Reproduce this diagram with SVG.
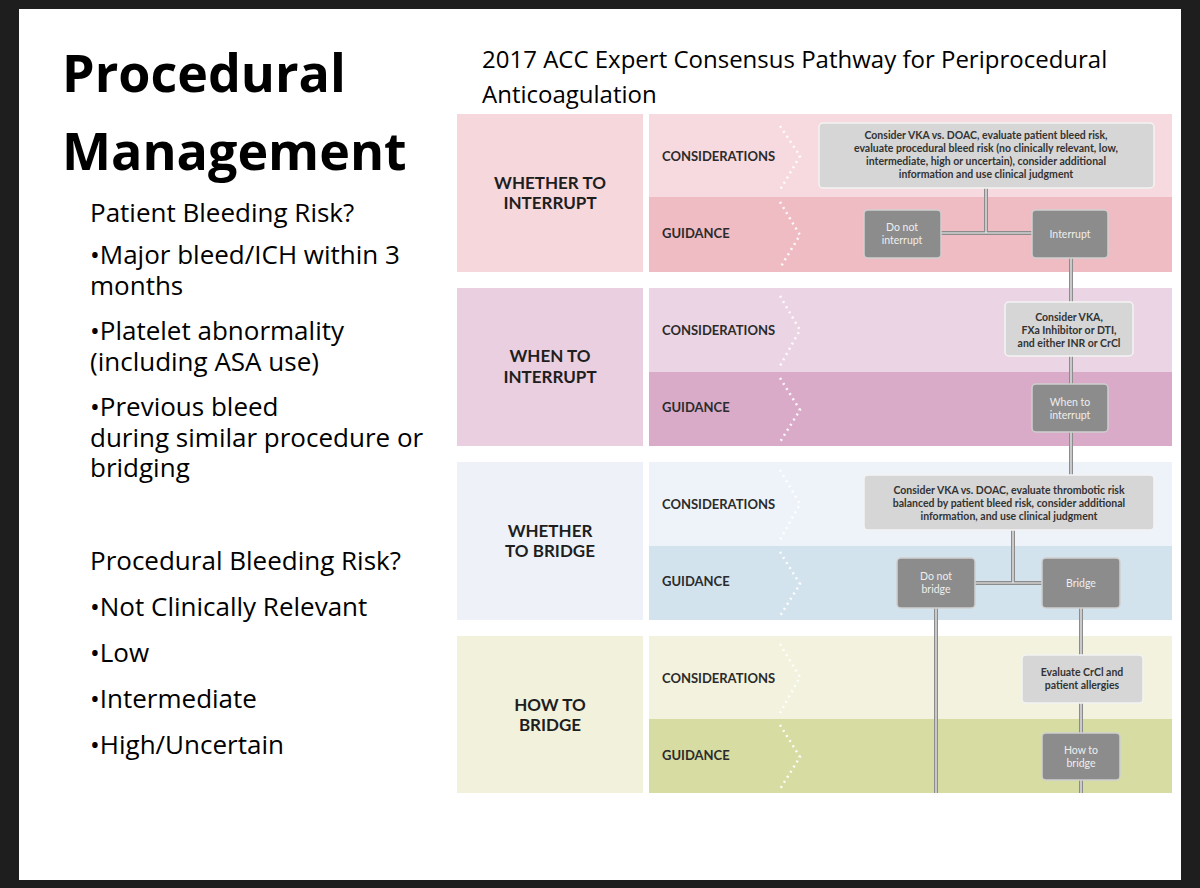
<svg xmlns="http://www.w3.org/2000/svg" width="1200" height="888" viewBox="0 0 1200 888">
<style>
.t{font-family:"Open Sans","Liberation Sans",sans-serif;fill:#000}
.b{font-size:26px}
.lab{font-family:"Lato","Liberation Sans",sans-serif;font-weight:bold;font-size:13px;fill:#2b2b2b}
.sec{font-family:"Lato","Liberation Sans",sans-serif;font-weight:bold;font-size:17px;fill:#1e1e1e;text-anchor:middle}
.lt{fill:#d6d6d6;stroke:#f4f4f4;stroke-width:1.5}
.dk{fill:#8c8c8c;stroke:#cfcfcf;stroke-width:1.5}
.nt{font-family:"Lato","Liberation Sans",sans-serif;font-size:10.5px;text-anchor:middle}
.ntl{fill:#333;font-weight:bold}
.ntd{fill:#eeeeee}
.ch{fill:none;stroke:#fff;stroke-width:2.5;stroke-dasharray:2 4;opacity:.9}
.ln{fill:none;stroke:#8c8c8c;stroke-width:4}
.li{fill:none;stroke:#f2f2f2;stroke-width:1.2}
</style>
<rect width="1200" height="888" fill="#1e1e1e"/>
<rect x="19" y="9" width="1162" height="871" fill="#ffffff"/>
<text class="t" x="62" y="92" font-size="52" font-weight="bold">Procedural</text>
<text class="t" x="62" y="170" font-size="52" font-weight="bold">Management</text>
<g class="t b">
<text x="90" y="222">Patient Bleeding Risk?</text>
<text x="90" y="264">•Major bleed/ICH within 3</text>
<text x="90" y="295">months</text>
<text x="90" y="340">•Platelet abnormality</text>
<text x="90" y="371">(including ASA use)</text>
<text x="90" y="416">•Previous bleed</text>
<text x="90" y="447">during similar procedure or</text>
<text x="90" y="477">bridging</text>
<text x="90" y="570">Procedural Bleeding Risk?</text>
<text x="90" y="616">•Not Clinically Relevant</text>
<text x="90" y="662">•Low</text>
<text x="90" y="708">•Intermediate</text>
<text x="90" y="754">•High/Uncertain</text>
</g>
<text class="t" x="482" y="68" font-size="24">2017 ACC Expert Consensus Pathway for Periprocedural</text>
<text class="t" x="482" y="103" font-size="24">Anticoagulation</text>

<g id="bands">
<rect x="457" y="114" width="186" height="158" fill="#f6d7dc"/>
<rect x="649" y="114" width="523" height="83" fill="#f7dadf"/>
<rect x="649" y="197" width="523" height="75" fill="#f0bcc4"/>
<rect x="457" y="288" width="186" height="158" fill="#e9cfe0"/>
<rect x="649" y="288" width="523" height="84" fill="#ebd4e4"/>
<rect x="649" y="372" width="523" height="74" fill="#d9abc8"/>
<rect x="457" y="462" width="186" height="158" fill="#eef2f8"/>
<rect x="649" y="462" width="523" height="84" fill="#eef3f9"/>
<rect x="649" y="546" width="523" height="74" fill="#d3e3ee"/>
<rect x="457" y="636" width="186" height="157" fill="#f1f1dc"/>
<rect x="649" y="636" width="523" height="83" fill="#f2f2df"/>
<rect x="649" y="719" width="523" height="74" fill="#d7dca2"/>
<path class="ch" d="M780 126L800 156L780 190M780 202L800 235L780 268M780 296L800 330L780 366M780 378L800 410L780 442M780 470L800 504L780 540M780 552L800 584L780 616M780 644L800 677L780 713M780 725L800 757L780 789"/>
<text class="sec" x="550" y="189">WHETHER TO</text><text class="sec" x="550" y="209">INTERRUPT</text>
<text class="sec" x="550" y="362">WHEN TO</text><text class="sec" x="550" y="383">INTERRUPT</text>
<text class="sec" x="550" y="537">WHETHER</text><text class="sec" x="550" y="557">TO BRIDGE</text>
<text class="sec" x="550" y="711">HOW TO</text><text class="sec" x="550" y="731">BRIDGE</text>
<text class="lab" x="662" y="161">CONSIDERATIONS</text><text class="lab" x="662" y="238">GUIDANCE</text>
<text class="lab" x="662" y="335">CONSIDERATIONS</text><text class="lab" x="662" y="412">GUIDANCE</text>
<text class="lab" x="662" y="509">CONSIDERATIONS</text><text class="lab" x="662" y="586">GUIDANCE</text>
<text class="lab" x="662" y="683">CONSIDERATIONS</text><text class="lab" x="662" y="760">GUIDANCE</text>
</g>

<g id="connectors">
<path class="ln" d="M986 188V233M941 233H1032M1071 258V302M1071 356V384M1071 432V475M1013 530V583M975 583H1042M936 608V793M1081 608V655M1081 703V733M1081 780V793"/>
<path class="li" d="M986 188V233M941 233H1032M1071 258V302M1071 356V384M1071 432V475M1013 530V583M975 583H1042M936 608V793M1081 608V655M1081 703V733M1081 780V793"/>
</g>

<g id="n1"><rect class="lt" x="819" y="123" width="335" height="65" rx="4"/>
<text class="nt ntl" x="986" y="139">Consider VKA vs. DOAC, evaluate patient bleed risk,</text>
<text class="nt ntl" x="986" y="152">evaluate procedural bleed risk (no clinically relevant, low,</text>
<text class="nt ntl" x="986" y="165">intermediate, high or uncertain), consider additional</text>
<text class="nt ntl" x="986" y="178">information and use clinical judgment</text></g>
<g id="n2"><rect class="dk" x="864" y="210" width="77" height="48" rx="4"/>
<text class="nt ntd" x="902" y="231">Do not</text><text class="nt ntd" x="902" y="244">interrupt</text></g>
<g id="n3"><rect class="dk" x="1032" y="210" width="76" height="48" rx="4"/>
<text class="nt ntd" x="1070" y="238">Interrupt</text></g>
<g id="n4"><rect class="lt" x="1005" y="302" width="128" height="54" rx="4"/>
<text class="nt ntl" x="1069" y="321">Consider VKA,</text><text class="nt ntl" x="1069" y="334">FXa Inhibitor or DTI,</text><text class="nt ntl" x="1069" y="347">and either INR or CrCl</text></g>
<g id="n5"><rect class="dk" x="1032" y="384" width="76" height="48" rx="4"/>
<text class="nt ntd" x="1070" y="406">When to</text><text class="nt ntd" x="1070" y="419">interrupt</text></g>
<g id="n6"><rect class="lt" x="864" y="475" width="290" height="55" rx="4"/>
<text class="nt ntl" x="1009" y="494">Consider VKA vs. DOAC, evaluate thrombotic risk</text>
<text class="nt ntl" x="1009" y="507">balanced by patient bleed risk, consider additional</text>
<text class="nt ntl" x="1009" y="520">information, and use clinical judgment</text></g>
<g id="n7"><rect class="dk" x="897" y="558" width="78" height="50" rx="4"/>
<text class="nt ntd" x="936" y="580">Do not</text><text class="nt ntd" x="936" y="593">bridge</text></g>
<g id="n8"><rect class="dk" x="1042" y="558" width="78" height="50" rx="4"/>
<text class="nt ntd" x="1081" y="587">Bridge</text></g>
<g id="n9"><rect class="lt" x="1022" y="655" width="121" height="48" rx="4"/>
<text class="nt ntl" x="1082" y="676">Evaluate CrCl and</text><text class="nt ntl" x="1082" y="689">patient allergies</text></g>
<g id="n10"><rect class="dk" x="1042" y="733" width="78" height="47" rx="4"/>
<text class="nt ntd" x="1081" y="754">How to</text><text class="nt ntd" x="1081" y="767">bridge</text></g>
</svg>
